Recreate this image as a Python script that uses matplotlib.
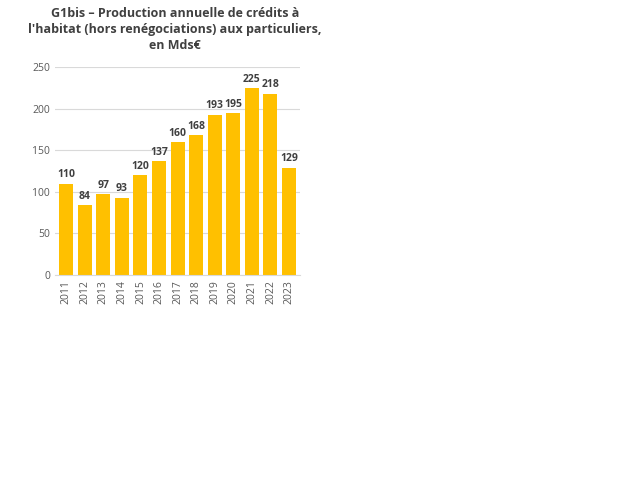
import matplotlib
matplotlib.use("Agg")
import matplotlib.pyplot as plt

# Data
years = ["2011", "2012", "2013", "2014", "2015", "2016", "2017",
         "2018", "2019", "2020", "2021", "2022", "2023"]
production = [110, 84, 97, 93, 120, 137, 160, 168, 193, 195, 225, 218, 129]

plt.rcParams["font.family"] = "Open Sans"

fig = plt.figure(figsize=(6.4, 4.8), dpi=100)
ax = fig.add_axes([0.086, 0.427, 0.383, 0.433])

bars = ax.bar(years, production, width=0.75, color="#FFC000", zorder=2)
for b, v in zip(bars, production):
    ax.text(b.get_x() + b.get_width() / 2, v + 4, str(v), ha="center",
            va="bottom", fontsize=7.5, fontweight="bold", color="#404040")

ax.set_ylim(0, 250)
ax.set_yticks(range(0, 251, 50))
ax.set_xlim(-0.6, len(years) - 0.4)
ax.grid(axis="y", color="#D9D9D9", linewidth=0.8, zorder=0)
for s in ["top", "right", "left"]:
    ax.spines[s].set_visible(False)
ax.spines["bottom"].set_color("#D9D9D9")
ax.tick_params(axis="both", length=0, labelsize=7.5, colors="#595959")
ax.tick_params(axis="x", rotation=90)

fig.text(0.273, 0.985, "G1bis – Production annuelle de crédits à\n"
         "l'habitat (hors renégociations) aux particuliers,\nen Mds€",
         ha="center", va="top", fontsize=9, fontweight="bold",
         color="#404040", linespacing=1.3)

fig.savefig("out.png", dpi=100)
